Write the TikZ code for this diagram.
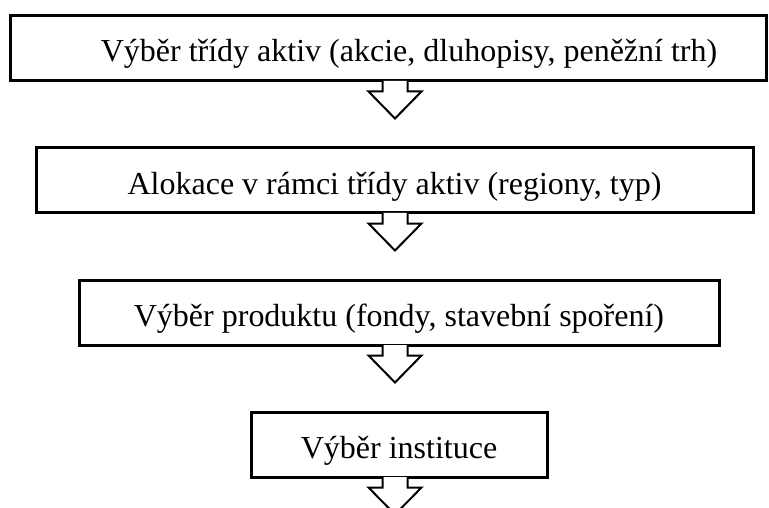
\documentclass[tikz,border=0pt]{standalone}
\usepackage{fontspec}
\setmainfont{Liberation Serif}
\tikzset{
  stage/.style={draw=black, line width=3pt, fill=white, inner sep=0pt,
    font=\fontsize{32}{38}\selectfont, text height=30pt, text depth=3pt,
    minimum height=65pt},
  blockarrow/.style={draw=black, line width=2pt, fill=white, line join=miter},
}
\newcommand{\stagearrow}[1]{%
  \draw[blockarrow] ([xshift=-12.5pt,yshift=1.5pt]#1) -- ++(0,10.5) -- ++(-14,0)
    -- ++(26.5,27) -- ++(26.5,-27) -- ++(-14,0) -- ++(0,-10.5);
}

\begin{document}
\begin{tikzpicture}[x=1pt,y=-1pt]
\useasboundingbox (0,0) rectangle (769,508);
\clip (0,0) rectangle (769,508);
\coordinate (ax) at (395,0);
\node[stage, minimum width=756pt] (sel) at (388,48.5) {\hspace*{42pt}Výběr třídy aktiv (akcie, dluhopisy, peněžní trh)};
\node[stage, minimum width=717pt] (alloc) at (394.5,180.5) {Alokace v rámci třídy aktiv (regiony, typ)};
\node[stage, minimum width=640pt] (prod) at (399,312.5) {Výběr produktu (fondy, stavební spoření)};
\node[stage, minimum width=296pt] (inst) at (399,444.5) {Výběr instituce};
% arrows between the stages
\stagearrow{sel.south -| ax}
\stagearrow{alloc.south -| ax}
\stagearrow{prod.south -| ax}
\stagearrow{inst.south -| ax}
\end{tikzpicture}
\end{document}
